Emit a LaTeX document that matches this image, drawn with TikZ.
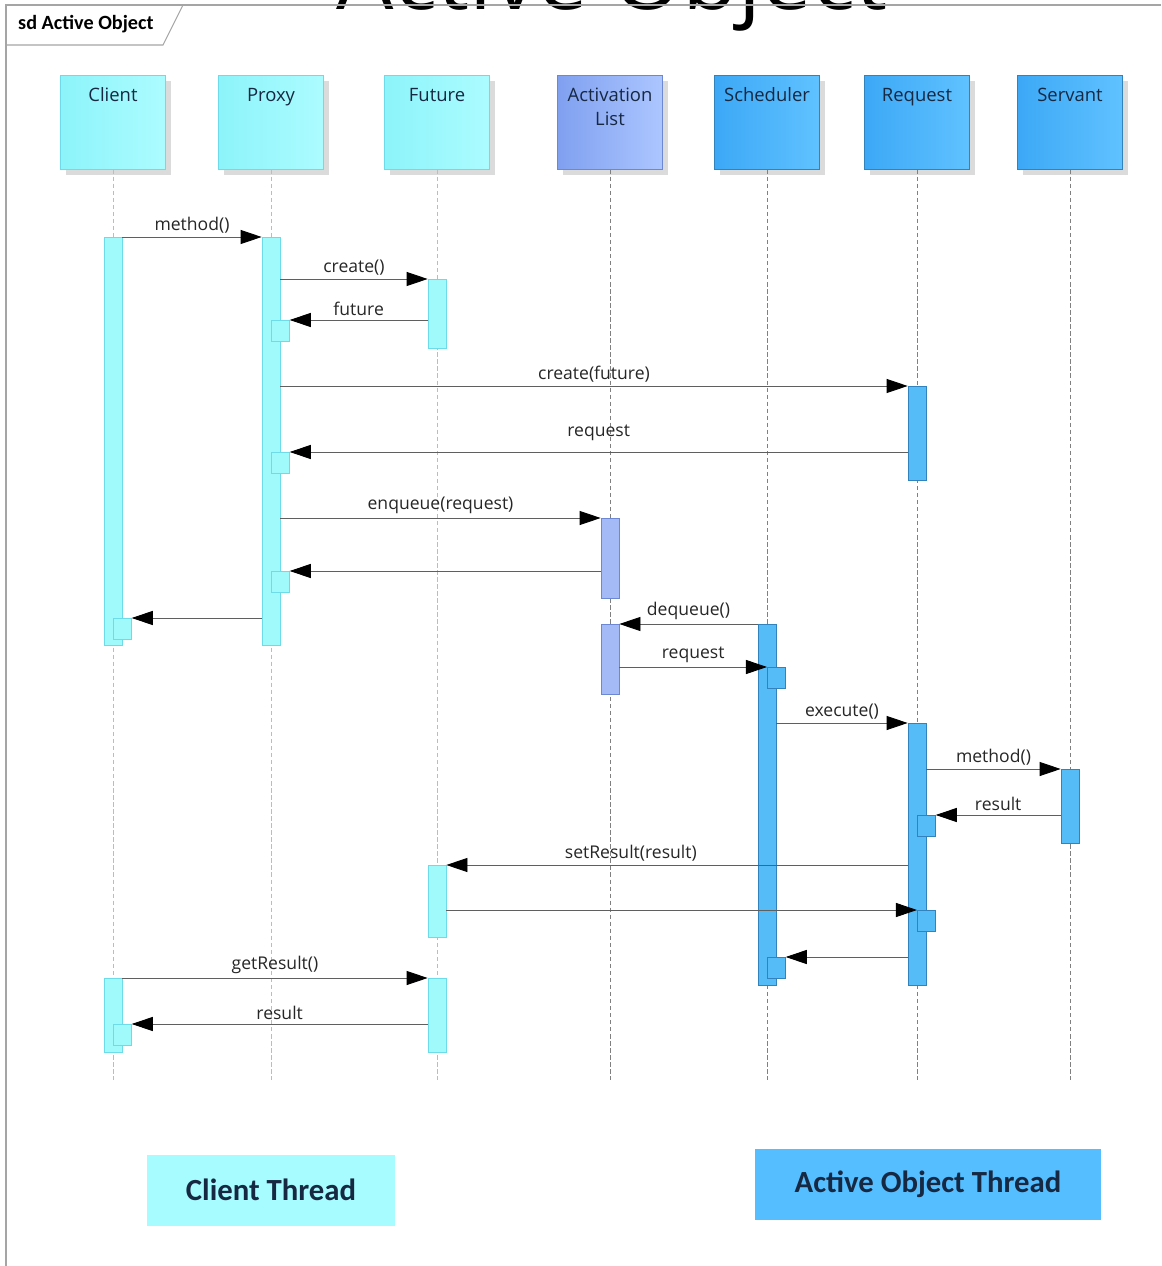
\documentclass[tikz,border=0pt]{standalone}
\usepackage{fontspec}
\setmainfont{Open Sans}
\newfontfamily\calib{Carlito}
\usetikzlibrary{arrows.meta, shadows}
\definecolor{navy}{RGB}{22,40,66}
\definecolor{cyanL}{RGB}{140,244,250}
\definecolor{cyanR}{RGB}{172,252,255}
\definecolor{cyanbar}{RGB}{160,250,252}
\definecolor{cyanedge}{RGB}{110,220,232}
\definecolor{lavL}{RGB}{128,160,240}
\definecolor{lavR}{RGB}{172,198,255}
\definecolor{lavbar}{RGB}{164,186,247}
\definecolor{lavedge}{RGB}{110,135,210}
\definecolor{blueL}{RGB}{60,168,246}
\definecolor{blueR}{RGB}{96,194,255}
\definecolor{bluebar}{RGB}{86,188,248}
\definecolor{blueedge}{RGB}{50,130,190}
\definecolor{lineclr}{RGB}{95,95,95}
\definecolor{frameclr}{RGB}{165,165,165}
\definecolor{clientfill}{RGB}{166,252,254}
\definecolor{activefill}{RGB}{85,190,255}
\tikzset{
>={Triangle[length=12pt, width=8pt, color=black]}, % solid black heads on the messages
head/.style={draw=#1edge, left color=#1L, right color=#1R, minimum width=2.1cm, minimum height=1.88cm, anchor=north, drop shadow={shadow xshift=3pt, shadow yshift=-3pt, fill=black!14, opacity=1}}, % the box on top of a lifeline
headtext/.style={anchor=north, yshift=-3.8pt, text=navy, align=center, font=\fontsize{10.5}{13.5}\selectfont}, % name inside the box
life/.style={draw=#1, dash pattern=on 2.5pt off 1.5pt, line width=0.5pt}, % dashed lifeline
bar/.style={draw=#1edge, fill=#1bar, minimum width=0.36cm, inner sep=0pt, anchor=north}, % activation bar
sq/.style={draw=#1edge, fill=#1bar, minimum width=0.36cm, minimum height=0.42cm, inner sep=0pt, anchor=north west}, % nested activation
msg/.style={->, draw=lineclr, line width=0.5pt}, % a message
lbl/.style={above, inner sep=2pt, text=black!85, font=\fontsize{10}{12}\selectfont}, % text of a message
thread/.style={fill=#1, minimum height=1.42cm, text=navy, font=\calib\bfseries\fontsize{17.5}{20}\selectfont}, % legend box
}

\begin{document}
\begin{tikzpicture}[x=0.02cm, y=-0.02cm]
      \useasboundingbox (0,0) rectangle (1161,1266);
      \node[anchor=base, font=\fontsize{51.6}{60}\selectfont] (title) at (612,10) {Active Object};
      \draw[frameclr, line width=0.6pt] (6,1266) -- (6,5) -- (1161,5);
      \draw[frameclr, line width=0.6pt] (6,45) -- (163,45) -- (183,5);
      \node[anchor=west, font=\calib\bfseries\fontsize{11.5}{13}\selectfont] (tab) at (12,24) {sd Active Object};
      \coordinate (bottom) at (0,1080);

      \node[head=cyan, label={[headtext]north:Client}] (client) at (113,75) {};
      \node[head=cyan, label={[headtext]north:Proxy}] (proxy) at (271,75) {};
      \node[head=cyan, label={[headtext]north:Future}] (future) at (437,75) {};
      \node[head=lav, label={[headtext]north:Activation\\List}] (actlist) at (610,75) {};
      \node[head=blue, label={[headtext]north:Scheduler}] (scheduler) at (767,75) {};
      \node[head=blue, label={[headtext]north:Request}] (request) at (917,75) {};
      \node[head=blue, label={[headtext]north:Servant}] (servant) at (1070,75) {};

      \draw[life=cyanedge] (client.south) -- (client.south |- bottom);
      \draw[life=cyanedge] (proxy.south) -- (proxy.south |- bottom);
      \draw[life=cyanedge] (future.south) -- (future.south |- bottom);
      \draw[life=gray] (actlist.south) -- (actlist.south |- bottom);
      \draw[life=gray] (scheduler.south) -- (scheduler.south |- bottom);
      \draw[life=gray] (request.south) -- (request.south |- bottom);
      \draw[life=gray] (servant.south) -- (servant.south |- bottom);

      \node[bar=cyan, minimum height=8.16cm] (clientA) at (client.south |- 0,237) {};
      \node[bar=cyan, minimum height=1.48cm] (clientB) at (client.south |- 0,978) {};
      \node[bar=cyan, minimum height=8.16cm] (proxyA) at (proxy.south |- 0,237) {};
      \node[bar=cyan, minimum height=1.38cm] (futureA) at (future.south |- 0,279) {};
      \node[bar=cyan, minimum height=1.44cm] (futureB) at (future.south |- 0,865) {};
      \node[bar=cyan, minimum height=1.48cm] (futureC) at (future.south |- 0,978) {};
      \node[bar=lav, minimum height=1.6cm] (actlistA) at (actlist.south |- 0,518) {};
      \node[bar=lav, minimum height=1.4cm] (actlistB) at (actlist.south |- 0,624) {};
      \node[bar=blue, minimum height=7.22cm] (schedulerA) at (scheduler.south |- 0,624) {};
      \node[bar=blue, minimum height=1.88cm] (requestA) at (request.south |- 0,386) {};
      \node[bar=blue, minimum height=5.24cm] (requestB) at (request.south |- 0,723) {};
      \node[bar=blue, minimum height=1.48cm] (servantA) at (servant.south |- 0,769) {};

      \node[sq=cyan] (proxyS1) at (proxyA.north |- 0,320) {};
      \node[sq=cyan] (proxyS2) at (proxyA.north |- 0,452) {};
      \node[sq=cyan] (proxyS3) at (proxyA.north |- 0,571) {};
      \node[sq=cyan] (clientS1) at (clientA.north |- 0,618) {};
      \node[sq=cyan] (clientS2) at (clientB.north |- 0,1024) {};
      \node[sq=blue] (schedulerS1) at (schedulerA.north |- 0,667) {};
      \node[sq=blue] (schedulerS2) at (schedulerA.north |- 0,957) {};
      \node[sq=blue] (requestS1) at (requestB.north |- 0,815) {};
      \node[sq=blue] (requestS2) at (requestB.north |- 0,910) {};

      \draw[msg] (clientA.north east) -- node[lbl] {method()} (proxyA.north west);
      \draw[msg] (proxyA.east |- futureA.north) -- node[lbl] {create()} (futureA.north west);
      \draw[msg] (futureA.west |- proxyS1.north) -- node[lbl] {future} (proxyS1.north east);
      \draw[msg] (proxyA.east |- requestA.north) -- node[lbl] {create(future)} (requestA.north west);
      \draw[msg] (requestA.west |- proxyS2.north) -- node[lbl, yshift=4pt] {request} (proxyS2.north east);
      \draw[msg] (proxyA.east |- actlistA.north) -- node[lbl] {enqueue(request)} (actlistA.north west);
      \draw[msg] (actlistA.west |- proxyS3.north) -- (proxyS3.north east);
      \draw[msg] (proxyA.west |- clientS1.north) -- (clientS1.north east);
      \draw[msg] (schedulerA.north west) -- node[lbl] {dequeue()} (actlistB.north east);
      \draw[msg] (actlistB.east |- schedulerS1.north) -- node[lbl] {request} (schedulerS1.north west);
      \draw[msg] (schedulerA.east |- requestB.north) -- node[lbl] {execute()} (requestB.north west);
      \draw[msg] (requestB.east |- servantA.north) -- node[lbl] {method()} (servantA.north west);
      \draw[msg] (servantA.west |- requestS1.north) -- node[lbl] {result} (requestS1.north east);
      \draw[msg] (requestB.west |- futureB.north) -- node[lbl, pos=0.6] {setResult(result)} (futureB.north east);
      \draw[msg] (futureB.east |- requestS2.north) -- (requestS2.north west);
      \draw[msg] (requestB.west |- schedulerS2.north) -- (schedulerS2.north east);
      \draw[msg] (clientB.north east) -- node[lbl] {getResult()} (futureC.north west);
      \draw[msg] (futureC.west |- clientS2.north) -- node[lbl] {result} (clientS2.north east);

      \node[thread=clientfill, minimum width=4.96cm] (clientthread) at (271,1190) {Client Thread};
      \node[thread=activefill, minimum width=6.94cm] (activethread) at (928,1184) {Active Object Thread};
    \end{tikzpicture}
\end{document}
